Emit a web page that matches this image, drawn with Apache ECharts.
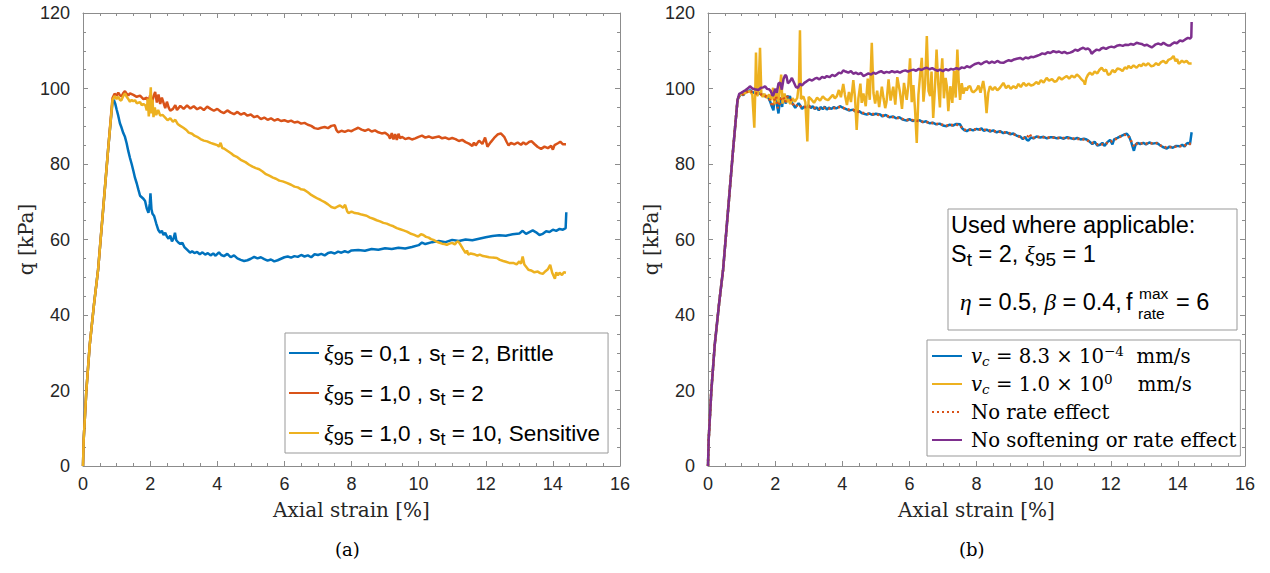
<!DOCTYPE html>
<html><head><meta charset="utf-8">
<script src="https://cdn.jsdelivr.net/npm/echarts@6/dist/echarts.min.js"></script>
<style>html,body{margin:0;padding:0;background:#fff}#c{width:1270px;height:573px}</style>
</head><body><div id="c"></div>
<script>
// ---------- data (strain %, q kPa) ----------
const xTicks = [0, 2, 4, 6, 8, 10, 12, 14, 16];
const yTicks = [0, 20, 40, 60, 80, 100, 120];

const leftNames = ['ξ95 = 0,1 , st = 2, Brittle', 'ξ95 = 1,0 , st = 2', 'ξ95 = 1,0 , st = 10, Sensitive'];
const rightNames = ['vc = 8.3e-4 mm/s', 'vc = 1.0e0 mm/s', 'No rate effect', 'No softening or rate effect'];

const brittle = [[0,0],[0.02,7],[0.1,20],[0.2,32],[0.33,43],[0.45,52],[0.6,68],[0.75,84],[0.88,96.5],[0.92,97],
[0.96,96],[1.0,94.5],[1.05,92.8],[1.1,90.8],[1.15,89.6],[1.2,88.2],[1.25,87.2],[1.3,85.5],[1.35,83.4],[1.4,81.6],[1.45,80],[1.5,78.2],[1.55,76.3],[1.6,74.9],[1.65,73.2],[1.7,71.6],[1.75,71.2],[1.8,70.8],[1.85,70.2],[1.9,68.2],[1.95,67.1],[1.99,69.5],[2.01,72.2],[2.04,68],[2.07,66.8],[2.12,66.2],[2.18,64.3],[2.24,62.6],[2.3,61.8],[2.35,62.3],[2.4,61.2],[2.45,61.8],[2.5,60.8],[2.55,60.2],[2.6,61],[2.65,59.5],[2.7,60.3],[2.74,61.8],[2.78,59.8],[2.84,59.2],[2.9,58.8],[2.96,59.1],[3.02,58],[3.1,57.3],[3.19,56.5],[3.25,56.9],[3.32,56.4],[3.4,56.7],[3.48,56.1],[3.56,56.6],[3.64,56],[3.72,56.4],[3.8,55.8],[3.88,56.3],[3.95,55.7],[4.05,56.6],[4.12,55.9],[4.2,55.6],[4.3,56.2],[4.4,55.3],[4.5,55.8],[4.6,55],[4.7,54.6],[4.8,54.3],[4.9,54.5],[5.0,54.9],[5.1,55.4],[5.2,55],[5.3,55.3],[5.4,54.8],[5.5,54.4],[5.6,54.7],[5.7,54.2],[5.8,54.5],[5.9,54.9],[6.0,55.3],[6.1,55.5],[6.2,55.2],[6.3,55.6],[6.4,55.4],[6.5,55.9],[6.6,55.5],[6.7,55.8],[6.8,55.3],[6.9,56.1],[7.0,55.9],[7.1,56.2],[7.2,55.8],[7.3,56.4],[7.4,56.6],[7.5,56.3],[7.6,56.8],[7.7,56.5],[7.8,56.9],[7.9,56.6],[8.0,57.1],[8.2,57.2],[8.4,57],[8.6,57.5],[8.8,57.3],[9.0,57.7],[9.2,57.5],[9.4,57.8],[9.6,57.6],[9.8,58],[10.0,58.5],[10.1,59.2],[10.2,58.8],[10.4,59.3],[10.6,59.6],[10.8,59.3],[11.0,59.9],[11.2,59.6],[11.4,60],[11.6,59.8],[11.8,60.2],[12.0,60.6],[12.2,60.9],[12.4,61.1],[12.6,61],[12.8,61.4],[13.0,61.6],[13.1,62.3],[13.2,61.5],[13.4,62.4],[13.5,61.9],[13.6,61.2],[13.7,61.5],[13.8,62.2],[13.9,62],[14.0,62.6],[14.1,62.3],[14.2,62.8],[14.3,62.6],[14.38,63],[14.4,67.2]];

const base = [[0,0],[0.02,7],[0.1,20],[0.2,32],[0.33,43],[0.45,52],[0.6,68],[0.75,84],[0.88,97.5],[0.94,98.6],[1.0,98.1],[1.05,98.9],[1.1,98.2],[1.15,97.9],[1.2,98.8],[1.25,99.3],[1.3,98.6],[1.35,98.2],[1.4,98.7],[1.5,98.3],[1.6,97.8],[1.7,98.1],[1.8,97.2],[1.9,97.6],[1.95,96.4],[2.0,98.2],[2.05,95.8],[2.1,97.9],[2.15,99.1],[2.2,96.3],[2.25,98.4],[2.3,95.9],[2.35,97.6],[2.4,96.2],[2.45,94.8],[2.5,96.5],[2.55,95],[2.6,94.1],[2.68,94.6],[2.75,95.6],[2.8,94.3],[2.9,95.4],[3.0,94.6],[3.1,95.5],[3.2,94.7],[3.3,95.3],[3.4,94.5],[3.5,95],[3.6,94.3],[3.7,95.2],[3.8,94.6],[3.9,94.1],[4.0,94.6],[4.1,93.9],[4.2,93.5],[4.3,94.2],[4.4,93.6],[4.5,93.2],[4.6,93.8],[4.7,93.1],[4.8,93.5],[4.9,92.8],[5.0,93.1],[5.1,92.4],[5.2,92.7],[5.3,91.9],[5.4,92.3],[5.5,91.7],[5.6,92.1],[5.7,91.5],[5.8,91.9],[5.9,91.4],[6.0,91.6],[6.1,91.2],[6.2,91.5],[6.3,91],[6.4,91.2],[6.5,90.7],[6.6,90.9],[6.7,90.4],[6.8,90.1],[6.9,89.5],[7.0,89.3],[7.1,89.6],[7.2,89.8],[7.3,89.5],[7.4,90.1],[7.5,90.3],[7.55,89],[7.6,88.4],[7.7,88.8],[7.8,88.5],[7.9,88.9],[8.0,88.7],[8.1,89.2],[8.2,89.6],[8.3,89.1],[8.4,88.8],[8.5,89.2],[8.6,88.6],[8.7,88.9],[8.8,88.4],[8.9,88.1],[9.0,88.3],[9.1,87.6],[9.15,86.7],[9.2,88.2],[9.25,86.5],[9.3,87.9],[9.35,86.4],[9.4,88],[9.45,86.8],[9.5,87.2],[9.6,86.6],[9.7,86.9],[9.8,86.5],[9.9,86.8],[10.0,87.2],[10.1,87.5],[10.2,87],[10.3,87.3],[10.4,86.9],[10.5,87.1],[10.6,87.3],[10.7,86.8],[10.8,87],[10.9,86.6],[11.0,86.9],[11.1,86.6],[11.2,86.1],[11.3,86.4],[11.4,85.8],[11.5,85.4],[11.6,84.8],[11.65,85.7],[11.7,84.9],[11.8,86.2],[11.9,85.3],[11.98,87],[12.05,84.6],[12.15,85.8],[12.25,86.9],[12.35,87.8],[12.45,88.1],[12.55,87.2],[12.62,85.9],[12.68,84.9],[12.75,85.6],[12.85,85.2],[12.95,85.7],[13.05,85.1],[13.12,85.7],[13.2,85.2],[13.3,85.9],[13.37,86],[13.45,85.3],[13.55,84.5],[13.65,84],[13.75,84.6],[13.85,84.2],[13.95,84.8],[14.0,83.8],[14.05,85],[14.15,85.5],[14.22,85.9],[14.3,85.2],[14.39,85.2]];

const sensitive = [[0,0],[0.02,7],[0.1,20],[0.2,32],[0.33,43],[0.45,52],[0.6,68],[0.75,84],[0.88,97],[0.94,98],[1.0,97.2],[1.05,97.8],[1.1,97],[1.14,96.8],[1.2,98],[1.25,98.7],[1.3,97.8],[1.35,97.2],[1.4,96.5],[1.45,97],[1.5,96.6],[1.55,96.9],[1.6,96.1],[1.7,96.4],[1.75,95.6],[1.8,95.9],[1.86,95.5],[1.9,94.2],[1.93,97.3],[1.96,92.6],[1.99,96],[2.02,100.3],[2.04,93.4],[2.07,97.1],[2.1,92.4],[2.14,95],[2.18,93],[2.24,94.3],[2.3,92.8],[2.37,93],[2.45,92.3],[2.52,91.6],[2.6,92.1],[2.68,91.2],[2.75,91.7],[2.82,90.6],[2.9,90.1],[2.99,89.6],[3.08,89],[3.15,88.3],[3.25,88],[3.32,87.5],[3.4,87.2],[3.5,86.6],[3.6,86.2],[3.7,86],[3.8,85.6],[3.9,85.3],[4.0,85],[4.05,84.6],[4.1,85.6],[4.15,84.2],[4.2,84.1],[4.3,83.5],[4.42,82.8],[4.5,82.2],[4.6,81.8],[4.7,81.1],[4.84,80.5],[4.95,79.8],[5.05,79.3],[5.15,78.9],[5.25,78.6],[5.35,78],[5.45,77.3],[5.55,76.9],[5.66,76.4],[5.75,76.1],[5.85,75.6],[5.95,75.4],[6.07,75],[6.2,74.5],[6.3,74],[6.4,73.8],[6.5,73.3],[6.58,73.2],[6.7,72.5],[6.8,71.8],[6.9,71.3],[7.0,70.8],[7.09,70.4],[7.2,69.9],[7.3,69.3],[7.4,68.6],[7.5,68.3],[7.6,68.8],[7.66,69],[7.75,68.4],[7.81,69.2],[7.87,67.5],[7.91,67],[8.0,67.4],[8.1,67],[8.2,66.9],[8.3,66.6],[8.45,66.3],[8.55,65.8],[8.65,65.5],[8.75,65.1],[8.85,64.8],[8.95,64.4],[9.05,64.2],[9.15,63.8],[9.25,63.5],[9.35,63],[9.45,62.7],[9.55,62.4],[9.65,62.1],[9.75,61.6],[9.85,61.3],[9.92,61],[9.99,60.8],[10.07,61.4],[10.14,61.2],[10.22,60.7],[10.3,60.5],[10.37,60.1],[10.44,59.9],[10.52,59.5],[10.6,59.2],[10.7,58.9],[10.77,58.8],[10.84,58.6],[10.92,58.9],[11.0,59.1],[11.08,58.7],[11.13,59.3],[11.18,59.5],[11.25,58.6],[11.33,57.4],[11.4,56.4],[11.44,57.1],[11.48,56],[11.55,56.3],[11.65,56.1],[11.75,55.7],[11.82,56],[11.92,55.6],[12.0,55.5],[12.1,55.3],[12.2,55.2],[12.33,55.1],[12.42,54.6],[12.52,54.3],[12.6,54.1],[12.7,53.8],[12.82,53.8],[12.92,53.4],[13.0,54.2],[13.05,53.6],[13.1,55.5],[13.15,53.4],[13.22,52.6],[13.27,52],[13.35,51.8],[13.45,51.3],[13.55,51.5],[13.62,51.1],[13.7,50.9],[13.78,51.6],[13.85,52.1],[13.92,53.3],[13.98,51.2],[14.02,50.4],[14.06,49.6],[14.1,51.3],[14.15,50.5],[14.2,51.2],[14.27,50.6],[14.33,51.3],[14.39,51.2]];

const slowRate = [[0,0],[0.02,7],[0.1,20],[0.2,32],[0.33,43],[0.45,52],[0.6,68],[0.75,84],[0.88,97],[0.95,98.2],[1.0,98.6],[1.05,98.2],[1.1,98.9],[1.15,99.3],[1.2,99.1],[1.25,99.6],[1.3,99.1],[1.35,98.8],[1.4,99.2],[1.45,98.9],[1.5,98.5],[1.55,98.8],[1.6,98.2],[1.65,98.4],[1.7,97.9],[1.75,98],[1.8,97.5],[1.85,96.6],[1.9,95.3],[1.95,94.2],[1.98,97.2],[2.02,98.3],[2.06,95.4],[2.1,93.4],[2.14,96.8],[2.18,97.6],[2.21,95.1],[2.24,98.2],[2.28,97.2],[2.32,96],[2.36,98.1],[2.4,97.4],[2.44,98],[2.5,96.2],[2.55,95.6],[2.6,94.9],[2.64,95.4],[2.7,96.1],[2.75,95.5],[2.8,94.6],[2.86,95.2],[2.94,94.9],[3.0,95.6],[3.06,94.8],[3.12,95.3],[3.18,94.6],[3.24,95],[3.3,94.2],[3.36,95.1],[3.42,94.5],[3.48,95.2],[3.54,94.4],[3.6,94.9],[3.68,94.6],[3.75,95.1],[3.82,94.7],[3.93,95.3],[4.0,95],[4.1,94.6],[4.2,94.2],[4.33,94.4],[4.4,93.8],[4.5,94],[4.6,93.4],[4.73,93.1],[4.8,93.4],[4.9,93],[5.0,93.3],[5.13,93.1],[5.2,92.6],[5.3,93],[5.4,92.4],[5.52,92.6],[5.6,92.1],[5.7,92.4],[5.8,91.8],[5.92,91.5],[6.0,91.9],[6.1,91.4],[6.2,91.7],[6.32,91.5],[6.4,91.1],[6.5,91.3],[6.6,90.8],[6.71,90.9],[6.8,90.5],[6.9,90.7],[7.0,90.2],[7.11,90],[7.2,90.4],[7.3,90.2],[7.4,90.6],[7.51,90.5],[7.58,89.4],[7.65,88.9],[7.71,88.7],[7.8,89.2],[7.9,88.9],[8.0,89.3],[8.06,89.1],[8.15,89.4],[8.22,88.8],[8.3,89.1],[8.4,88.6],[8.5,88.9],[8.6,88.4],[8.7,88.7],[8.8,88.2],[8.9,88.4],[9.0,87.9],[9.1,88.1],[9.2,87.5],[9.3,87.3],[9.38,86.6],[9.45,87.2],[9.5,86.4],[9.55,86.2],[9.62,87],[9.7,86.8],[9.79,87.3],[9.9,87],[10.0,87.2],[10.1,86.8],[10.2,87.1],[10.29,87.1],[10.4,86.8],[10.5,87],[10.6,86.7],[10.7,87.1],[10.79,86.9],[10.9,86.6],[11.0,86.9],[11.1,86.5],[11.2,86.7],[11.28,86.5],[11.36,86],[11.45,85.3],[11.52,85.9],[11.6,84.9],[11.68,85.1],[11.75,85.6],[11.82,84.8],[11.9,85.8],[11.98,86.4],[12.05,85.2],[12.1,86.5],[12.2,86.9],[12.3,87.4],[12.4,87.8],[12.48,88],[12.55,87.2],[12.6,86.1],[12.65,84.6],[12.69,83.5],[12.74,85.1],[12.8,85.6],[12.88,85.3],[12.97,85.6],[13.05,85.2],[13.15,85.7],[13.25,85.4],[13.37,85.6],[13.45,85.1],[13.55,84.5],[13.67,84.1],[13.75,84.6],[13.85,84.3],[13.95,84.8],[14.06,84.7],[14.13,85.1],[14.2,84.6],[14.26,85.4],[14.31,85.6],[14.36,85.2],[14.41,88.4]];

const fastRate = [[0,0],[0.02,7],[0.1,20],[0.2,32],[0.33,43],[0.45,52],[0.6,68],[0.75,84],[0.88,97],[0.95,98.4],[1.05,98.6],[1.15,99],[1.25,99.3],[1.32,98.4],[1.38,89.6],[1.41,100],[1.43,109.5],[1.46,98],[1.5,98.6],[1.55,110.8],[1.59,98.3],[1.63,97.8],[1.68,98.6],[1.75,97.5],[1.82,98.4],[1.88,96.9],[1.94,100.2],[1.98,95.8],[2.04,99.4],[2.1,96.2],[2.18,103.7],[2.22,96],[2.28,98.7],[2.34,96.4],[2.39,97.2],[2.45,95.9],[2.52,97.4],[2.59,96.5],[2.66,97.5],[2.71,101.3],[2.74,115.4],[2.77,97.2],[2.84,97.9],[2.9,96.4],[2.96,86],[3.0,97.8],[3.08,97.1],[3.16,96.2],[3.25,97.6],[3.34,96.8],[3.42,97.9],[3.5,97.2],[3.58,96.9],[3.64,97.5],[3.72,98.3],[3.78,97.4],[3.84,98],[3.9,99.6],[3.96,97.7],[4.03,101.2],[4.08,98.3],[4.14,95.6],[4.2,99.1],[4.26,96.4],[4.33,102.2],[4.38,97.6],[4.43,89],[4.48,97.3],[4.54,101.3],[4.58,96.2],[4.63,98.7],[4.7,95.3],[4.76,102.6],[4.82,97],[4.88,112.1],[4.93,98.8],[4.98,96],[5.04,99.4],[5.1,95.1],[5.18,100.5],[5.23,97.4],[5.28,94.8],[5.32,96.5],[5.38,102.4],[5.44,96.8],[5.52,100.5],[5.58,95.7],[5.64,103],[5.72,99],[5.78,94.6],[5.84,101.5],[5.92,97],[5.97,100.8],[6.02,108],[6.07,96.4],[6.12,100.9],[6.17,94.2],[6.22,85.6],[6.27,98.3],[6.32,103.6],[6.37,108.1],[6.42,96.5],[6.47,101.3],[6.52,113.9],[6.57,99.4],[6.62,98],[6.66,104.5],[6.71,92.2],[6.76,99.8],[6.81,110.3],[6.86,101.2],[6.91,95],[6.94,102.9],[6.98,108],[7.03,97.4],[7.08,102.8],[7.12,100.4],[7.16,94],[7.22,100.6],[7.28,96.2],[7.33,104.6],[7.38,97.6],[7.43,110.3],[7.47,101.8],[7.51,97],[7.56,101.4],[7.61,98.6],[7.66,100.2],[7.71,99.5],[7.76,100.5],[7.81,100.6],[7.86,99.3],[7.91,99],[8.0,99.7],[8.06,100.8],[8.12,98.9],[8.2,102],[8.25,99.2],[8.3,93.5],[8.35,98.8],[8.4,100.6],[8.48,99.6],[8.55,100.4],[8.62,99.5],[8.7,100.2],[8.8,101.5],[8.88,100.1],[8.95,100.8],[9.02,99.9],[9.1,100.6],[9.18,100.1],[9.25,101.2],[9.32,100.4],[9.4,101.5],[9.48,100.7],[9.55,101.3],[9.62,100.8],[9.7,101],[9.78,101.7],[9.85,101.2],[9.92,102.2],[10.0,101.6],[10.09,102.8],[10.16,102.1],[10.25,102.5],[10.32,101.8],[10.39,102],[10.46,103],[10.54,102.4],[10.62,102.9],[10.69,103.3],[10.76,102.6],[10.84,103.4],[10.92,102.9],[10.99,103.7],[11.06,103.2],[11.13,102.4],[11.2,101.8],[11.23,101],[11.27,102.7],[11.32,103.6],[11.38,104.2],[11.45,103.6],[11.52,104.5],[11.6,104],[11.66,104.9],[11.73,105.5],[11.8,104.6],[11.86,105],[11.92,103.6],[11.98,103.8],[12.05,104.9],[12.12,104.3],[12.2,105.3],[12.28,105.1],[12.35,104.6],[12.42,105.6],[12.48,105.2],[12.53,106],[12.6,105.4],[12.68,106.1],[12.77,105.5],[12.85,106.3],[12.91,105.9],[12.97,106.6],[13.04,106.1],[13.12,106.7],[13.2,105.9],[13.27,106],[13.35,106.7],[13.42,106.2],[13.5,107],[13.57,107.3],[13.65,106.7],[13.72,107.6],[13.8,107.9],[13.87,108.6],[13.93,107.2],[13.98,107.8],[14.02,106.6],[14.06,106.8],[14.12,107.4],[14.18,106.9],[14.26,107.3],[14.33,106.6],[14.41,106.6]];

const noRate = [[0,0],[0.02,7],[0.1,20],[0.2,32],[0.33,43],[0.45,52],[0.6,68],[0.75,84],[0.88,97],[0.95,98.3],[1.05,98.4],[1.15,99.1],[1.25,99.4],[1.35,98.9],[1.45,98.7],[1.55,98.6],[1.65,98.2],[1.75,97.8],[1.85,96.9],[1.92,95.2],[1.97,96.8],[2.03,97.9],[2.08,94.8],[2.12,95.6],[2.18,97.4],[2.24,97.8],[2.3,96.4],[2.36,97.8],[2.44,97.6],[2.52,96],[2.6,95.2],[2.7,95.8],[2.8,94.9],[2.9,95.1],[3.0,95.3],[3.1,95],[3.2,94.8],[3.3,94.6],[3.4,94.8],[3.5,94.9],[3.6,94.7],[3.7,94.9],[3.8,94.8],[3.93,95.1],[4.05,94.8],[4.2,94.4],[4.33,94.3],[4.45,93.9],[4.6,93.6],[4.73,93.3],[4.85,93.2],[5.0,93.2],[5.13,92.9],[5.25,92.8],[5.4,92.6],[5.52,92.4],[5.65,92.2],[5.8,91.9],[5.92,91.7],[6.05,91.7],[6.2,91.5],[6.32,91.3],[6.45,91.1],[6.6,91],[6.71,90.8],[6.85,90.6],[7.0,90.4],[7.11,90.2],[7.25,90.3],[7.4,90.4],[7.51,90.2],[7.6,89.2],[7.71,88.9],[7.85,89.1],[8.0,89.2],[8.15,89.1],[8.3,89],[8.45,88.8],[8.6,88.6],[8.75,88.5],[8.9,88.3],[9.05,88],[9.2,87.6],[9.35,86.9],[9.5,86.9],[9.58,88],[9.65,86.8],[9.79,87.2],[9.95,87.1],[10.1,87],[10.29,87],[10.45,86.9],[10.6,86.9],[10.79,86.8],[10.95,86.7],[11.1,86.6],[11.28,86.4],[11.4,85.7],[11.5,85.5],[11.6,85.2],[11.68,85.3],[11.8,85.1],[11.9,85.6],[12.0,85.9],[12.1,86.4],[12.2,86.8],[12.3,87.3],[12.4,87.7],[12.48,87.8],[12.56,87],[12.63,85.6],[12.7,84.6],[12.78,85.4],[12.88,85.4],[12.97,85.5],[13.1,85.4],[13.25,85.5],[13.37,85.5],[13.5,84.8],[13.67,84.3],[13.8,84.5],[13.95,84.6],[14.06,84.7],[14.2,84.9],[14.31,85.4],[14.41,85.3]];

const noSoftening = [[0,0],[0.02,7],[0.1,20],[0.2,32],[0.33,43],[0.45,52],[0.6,68],[0.75,84],[0.88,97],[0.93,98.6],[1.0,98.9],[1.05,99.2],[1.12,99.6],[1.2,100.1],[1.25,100.6],[1.32,100],[1.4,99.8],[1.5,99.6],[1.58,100.2],[1.65,100.3],[1.7,100.6],[1.76,99.9],[1.82,99.8],[1.87,99.3],[1.92,98.1],[1.95,98.3],[2.0,99.9],[2.05,98.9],[2.1,101.3],[2.15,101.6],[2.2,99.7],[2.25,102.5],[2.3,103.6],[2.34,103.2],[2.38,101.4],[2.44,101.9],[2.5,102.8],[2.56,101.6],[2.62,100.4],[2.68,100.2],[2.74,101.3],[2.8,100.8],[2.87,101.5],[2.94,101.9],[3.02,102.4],[3.1,102.1],[3.18,102.6],[3.24,102.8],[3.32,102.4],[3.4,103.1],[3.47,102.8],[3.54,103.3],[3.62,103],[3.7,103.6],[3.78,103.3],[3.84,103.7],[3.9,104.2],[3.97,104],[4.03,104.8],[4.1,104.5],[4.18,104.2],[4.26,104.6],[4.33,103.9],[4.4,104.2],[4.48,103.8],[4.56,104.1],[4.63,103.3],[4.7,103.6],[4.78,104],[4.86,103.7],[4.93,104.2],[5.0,103.9],[5.08,104.3],[5.16,104.6],[5.24,104.1],[5.32,104.4],[5.4,104.2],[5.48,104.6],[5.56,104.3],[5.64,104.5],[5.72,104.2],[5.8,104.6],[5.88,104.8],[5.96,104.5],[6.04,104.8],[6.12,105],[6.2,104.7],[6.28,105.2],[6.36,104.9],[6.44,105.3],[6.52,105.5],[6.6,105.1],[6.68,105.4],[6.76,105],[6.84,104.7],[6.91,105],[7.0,104.6],[7.08,105.1],[7.16,104.8],[7.24,105.2],[7.31,105],[7.4,105.4],[7.48,105.1],[7.56,105.6],[7.64,105.4],[7.71,105.9],[7.8,105.6],[7.88,106.1],[7.96,106.5],[8.06,106.8],[8.14,106.4],[8.22,106.9],[8.3,107.2],[8.38,106.7],[8.46,107.1],[8.54,106.8],[8.62,107.3],[8.7,106.9],[8.8,106.8],[8.88,107.2],[8.96,107.5],[9.04,107.3],[9.12,107.7],[9.2,107.9],[9.3,108.1],[9.38,107.7],[9.46,108.2],[9.54,108],[9.62,108.4],[9.7,108.3],[9.79,108.6],[9.88,108.9],[9.96,109.3],[10.04,109.1],[10.12,109.6],[10.2,109.4],[10.29,109.9],[10.38,109.6],[10.46,109.8],[10.54,109.4],[10.62,109.7],[10.7,109.3],[10.79,109.5],[10.87,109.8],[10.94,110.3],[11.02,110],[11.1,110.5],[11.18,110.8],[11.25,110.4],[11.32,110.6],[11.38,110.2],[11.43,109.2],[11.5,109.8],[11.58,110.3],[11.66,110.1],[11.72,110.6],[11.78,110.8],[11.86,110.5],[11.94,110.9],[12.02,111.1],[12.1,110.9],[12.18,111.3],[12.28,111.5],[12.36,111.3],[12.44,111.6],[12.52,111.5],[12.6,111.8],[12.68,111.6],[12.77,112.1],[12.85,111.9],[12.92,111.8],[13.0,111.4],[13.08,111.6],[13.15,111.2],[13.22,110.9],[13.27,111.2],[13.34,111.7],[13.42,111.9],[13.5,111.6],[13.57,112.1],[13.64,111.7],[13.7,111.4],[13.77,111.4],[13.84,111.9],[13.9,112.2],[13.97,112],[14.06,112.7],[14.14,112.5],[14.22,113],[14.3,113.4],[14.36,113.2],[14.4,113.6],[14.41,117.6]];

// ---------- styling ----------
const C = {blue:'#0072BD', red:'#D95319', yellow:'#EDB120', purple:'#7E2F8E'};
const AX = '#8c8c8c', TXT = '#262626';
const SANS = 'Liberation Sans', SERIF = 'DejaVu Serif';

function xAx(grid, pos, labels) {
  return {
    gridIndex: grid, type: 'value', position: pos, min: xTicks[0], max: xTicks[xTicks.length-1], interval: 2,
    axisLine: {show: true, onZero: false, lineStyle: {color: AX, width: 1}},
    axisTick: {show: true, inside: true, length: 5, lineStyle: {color: AX}},
    minorTick: {show: true, splitNumber: 4, length: 3, lineStyle: {color: AX}},
    splitLine: {show: false},
    axisLabel: {show: labels, color: TXT, fontSize: 18, fontFamily: SANS, margin: 9},
    name: labels ? 'Axial strain [%]' : '', nameLocation: 'middle', nameGap: 34,
    nameTextStyle: {color: TXT, fontSize: 20, fontFamily: SERIF}
  };
}
function yAx(grid, pos, labels) {
  return {
    gridIndex: grid, type: 'value', position: pos, min: yTicks[0], max: yTicks[yTicks.length-1], interval: 20,
    axisLine: {show: true, onZero: false, lineStyle: {color: AX, width: 1}},
    axisTick: {show: true, inside: true, length: 5, lineStyle: {color: AX}},
    minorTick: {show: true, splitNumber: 4, length: 3, lineStyle: {color: AX}},
    splitLine: {show: false},
    axisLabel: {show: labels, color: TXT, fontSize: 18, fontFamily: SANS, margin: 13},
    name: labels ? 'q [kPa]' : '', nameLocation: 'middle', nameGap: 28,
    nameTextStyle: {color: TXT, fontSize: 20, fontFamily: SERIF}
  };
}
function line(name, data, xi, yi, color, type) {
  return {
    type: 'line', name, data, xAxisIndex: xi, yAxisIndex: yi,
    symbol: 'none', showSymbol: false, smooth: false, clip: true,
    lineStyle: {color, width: type ? 2.6 : 2.5, type: type || 'solid', cap: 'butt'}, itemStyle: {color},
    emphasis: {disabled: true}, z: 2
  };
}

const leftRich = {
  n: {fontSize: 22.5, fontFamily: SANS, color: '#000', lineHeight: 30},
  g: {fontSize: 22.5, fontFamily: 'Liberation Serif', fontStyle: 'italic', color: '#000', lineHeight: 30},
  s: {fontSize: 18, fontFamily: SANS, color: '#000', lineHeight: 8, verticalAlign: 'bottom'}
};
const leftLabels = {};
leftLabels[leftNames[0]] = '{g|ξ}{s|95}{n| = 0,1 , s}{s|t}{n| = 2, Brittle}';
leftLabels[leftNames[1]] = '{g|ξ}{s|95}{n| = 1,0 , s}{s|t}{n| = 2}';
leftLabels[leftNames[2]] = '{g|ξ}{s|95}{n| = 1,0 , s}{s|t}{n| = 10, Sensitive}';

const rightRich = {
  n: {fontSize: 19.7, fontFamily: SERIF, color: '#000', lineHeight: 24},
  i: {fontSize: 19.7, fontFamily: SERIF, fontStyle: 'italic', color: '#000', lineHeight: 24},
  s: {fontSize: 13.5, fontFamily: SERIF, fontStyle: 'italic', color: '#000', lineHeight: 8, verticalAlign: 'bottom'},
  p: {fontSize: 13.5, fontFamily: SERIF, color: '#000', lineHeight: 8, verticalAlign: 'top'}
};
const rightLabels = {};
rightLabels[rightNames[0]] = '{i|v}{s|c}{n| = 8.3 × 10}{p|−4}{n|  mm/s}';
rightLabels[rightNames[1]] = '{i|v}{s|c}{n| = 1.0 × 10}{p|0}{n|    mm/s}';
rightLabels[rightNames[2]] = '{n|No rate effect}';
rightLabels[rightNames[3]] = '{n|No softening or rate effect}';

const boxRich = {
  n: {fontSize: 23.5, fontFamily: SANS, color: '#000', lineHeight: 30},
  g: {fontSize: 23.5, fontFamily: 'Liberation Serif', fontStyle: 'italic', color: '#000', lineHeight: 30},
  s: {fontSize: 19, fontFamily: SANS, color: '#000', lineHeight: 8, verticalAlign: 'bottom'}
};

const chart = echarts.init(document.getElementById('c'), null, {renderer: 'svg', width: 1270, height: 573});
chart.setOption({
  animation: false,
  backgroundColor: '#fff',
  grid: [
    {left: 83, top: 13, width: 537, height: 453, containLabel: false},
    {left: 708, top: 13, width: 537, height: 453, containLabel: false}
  ],
  xAxis: [xAx(0, 'bottom', true), xAx(0, 'top', false), xAx(1, 'bottom', true), xAx(1, 'top', false)],
  yAxis: [yAx(0, 'left', true), yAx(0, 'right', false), yAx(1, 'left', true), yAx(1, 'right', false)],
  legend: [
    {
      data: leftNames, orient: 'vertical', left: 285, top: 333,
      itemWidth: 30, itemHeight: 14, itemGap: 10,
      padding: [5, 8, 5, 3], borderColor: '#999', borderWidth: 1, backgroundColor: '#fff',
      itemStyle: {opacity: 0},
      formatter: n => leftLabels[n], textStyle: {rich: leftRich, lineHeight: 30}, selectedMode: false
    },
    {
      data: rightNames, orient: 'vertical', left: 927, top: 340,
      itemWidth: 30, itemHeight: 14, itemGap: 4,
      padding: [4, 4, 4, 4], borderColor: '#999', borderWidth: 1, backgroundColor: '#fff',
      itemStyle: {opacity: 0},
      formatter: n => rightLabels[n], textStyle: {rich: rightRich, lineHeight: 24, padding: [0, 0, 0, 4]}, selectedMode: false
    }
  ],
  series: [
    line(leftNames[0], brittle, 0, 0, C.blue),
    line(leftNames[1], base, 0, 0, C.red),
    line(leftNames[2], sensitive, 0, 0, C.yellow),
    line(rightNames[0], slowRate, 2, 2, C.blue),
    line(rightNames[1], fastRate, 2, 2, C.yellow),
    line(rightNames[2], noRate, 2, 2, C.red, [2, 3]),
    line(rightNames[3], noSoftening, 2, 2, C.purple)
  ],
  graphic: [
    {type: 'text', left: 335, top: 540, style: {text: '(a)', font: '18px "DejaVu Serif"', fill: '#000'}},
    {type: 'text', left: 959, top: 540, style: {text: '(b)', font: '18px "DejaVu Serif"', fill: '#000'}},
    {type: 'rect', shape: {x: 948, y: 209, width: 289, height: 121}, style: {fill: '#fff', stroke: '#999', lineWidth: 1}, z: 10},
    {type: 'text', x: 951, y: 225, z: 11, style: {text: 'Used where applicable:', font: '23.5px "Liberation Sans"', fill: '#000', verticalAlign: 'middle'}},
    {type: 'text', x: 951, y: 254, z: 11, style: {text: '{n|S}{s|t}{n| = 2, }{g|ξ}{s|95}{n| = 1}', verticalAlign: 'middle', rich: boxRich}},
    {type: 'text', x: 960, y: 302, z: 11, style: {text: '{g|η}{n| = 0.5, }{g|β}{n| = 0.4,}', verticalAlign: 'middle', rich: boxRich}},
    {type: 'text', x: 1126, y: 302, z: 11, style: {text: 'f', font: '23.5px "Liberation Sans"', fill: '#000', verticalAlign: 'middle'}},
    {type: 'text', x: 1139, y: 293, z: 11, style: {text: 'max', font: '15.5px "Liberation Sans"', fill: '#000', verticalAlign: 'middle'}},
    {type: 'text', x: 1138, y: 313, z: 11, style: {text: 'rate', font: '15.5px "Liberation Sans"', fill: '#000', verticalAlign: 'middle'}},
    {type: 'text', x: 1176, y: 302, z: 11, style: {text: '= 6', font: '23.5px "Liberation Sans"', fill: '#000', verticalAlign: 'middle'}}
  ]
});
</script>
</body></html>
